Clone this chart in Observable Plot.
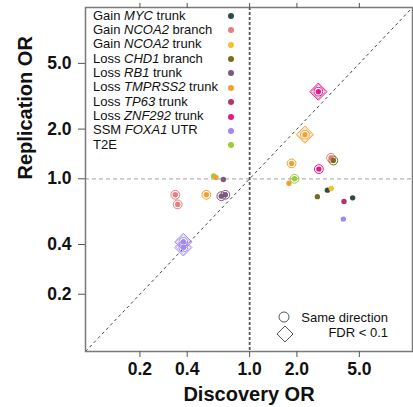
<!DOCTYPE html>
<html><head><meta charset="utf-8">
<script src="https://cdn.jsdelivr.net/npm/d3@7"></script>
<script src="https://cdn.jsdelivr.net/npm/@observablehq/plot@0.6"></script>
<style>
body{margin:0;background:#fff;font-family:"Liberation Sans",Arial,Helvetica,sans-serif;}
#wrap{position:relative;width:413px;height:407px;overflow:hidden;}
#wrap svg.plot{position:absolute;left:0;top:0;}
.leg{position:absolute;font-size:13px;line-height:14px;color:#111;white-space:nowrap;}
.legdot{position:absolute;width:6px;height:6px;border-radius:50%;}
.leg2{position:absolute;font-size:13px;line-height:14px;color:#111;white-space:nowrap;text-align:right;}
</style></head><body><div id="wrap"></div>
<script>
// Legend categories and their colours
const categories = ["Gain MYC trunk","Gain NCOA2 branch","Gain NCOA2 trunk","Loss CHD1 branch","Loss RB1 trunk","Loss TMPRSS2 trunk","Loss TP63 trunk","Loss ZNF292 trunk","SSM FOXA1 UTR","T2E"];
const palette = ["#2f4a46","#e57f7c","#f2c229","#7b6b1e","#7a5a82","#f0a231","#b5336c","#e0198c","#a088f7","#9acd38"];

// Points
const pointCategory = ["T2E","Loss TMPRSS2 trunk","Loss RB1 trunk","Gain NCOA2 branch","Gain NCOA2 branch","Loss TMPRSS2 trunk","Loss RB1 trunk","Loss RB1 trunk","SSM FOXA1 UTR","SSM FOXA1 UTR","Loss ZNF292 trunk","Loss TMPRSS2 trunk","Loss TMPRSS2 trunk","Gain NCOA2 branch","Loss CHD1 branch","Loss ZNF292 trunk","T2E","Loss TMPRSS2 trunk","Loss CHD1 branch","Gain MYC trunk","Gain NCOA2 trunk","Loss TP63 trunk","Gain MYC trunk","SSM FOXA1 UTR"];
const discoveryOR   = [0.59,0.61,0.68,0.336,0.348,0.53,0.66,0.70,0.378,0.378,2.74,2.25,1.85,3.30,3.41,2.76,1.93,1.78,2.70,3.13,3.31,3.99,4.53,3.95];
const replicationOR = [1.04,1.02,0.99,0.80,0.70,0.80,0.785,0.80,0.415,0.384,3.37,1.85,1.24,1.34,1.29,1.145,1.00,0.94,0.78,0.854,0.873,0.73,0.767,0.57];
const sameDirection = [false,false,false,true,true,true,true,true,true,true,true,true,true,true,true,true,true,false,false,false,false,false,false,false];
const fdrBelow01    = [false,false,false,false,false,false,false,false,true,true,true,true,false,false,false,false,false,false,false,false,false,false,false,false];

// Axis ticks
const tickValues = [0.2,0.4,1,2,5];
const axisDomain = [0.09,10.9];
const xTitle = "Discovery OR";
const yTitle = "Replication OR";
const keyLabels = ["Same direction","FDR < 0.1"];

const data = discoveryOR.map((d,i)=>({x:d,y:replicationOR[i],cat:pointCategory[i],same:sameDirection[i],fdr:fdrBelow01[i]}));
const fmt = d3.format(".1f");
const font = "Liberation Sans, Arial, Helvetica, sans-serif";

const chart = Plot.plot({
  width:413, height:407,
  marginLeft:85, marginRight:1, marginTop:7, marginBottom:56,
  style:{fontFamily:font, background:"white", overflow:"visible"},
  x:{type:"log", domain:axisDomain},
  y:{type:"log", domain:axisDomain},
  color:{domain:categories, range:palette},
  marks:[
    Plot.ruleY([1],{stroke:"#b5b5b5", strokeDasharray:"4,3", strokeWidth:1.3}),
    Plot.ruleX([1],{stroke:"#555", strokeDasharray:"3,2", strokeWidth:1.8}),
    Plot.link([axisDomain],{x1:d=>d[0],y1:d=>d[0],x2:d=>d[1],y2:d=>d[1],stroke:"#444",strokeDasharray:"3,3",strokeWidth:1}),
    Plot.dot(data.filter(d=>d.fdr),{x:"x",y:"y",symbol:"diamond2",r:7.7,stroke:"cat",fill:"none",strokeWidth:1}),
    Plot.dot(data.filter(d=>d.fdr),{x:"x",y:"y",symbol:"diamond2",r:6.4,stroke:"cat",fill:"none",strokeWidth:1,strokeOpacity:0.6}),
    Plot.dot(data.filter(d=>d.same),{x:"x",y:"y",r:4.4,stroke:"cat",fill:"none",strokeWidth:1}),
    Plot.dot(data,{x:"x",y:"y",r:2.7,fill:"cat",stroke:null}),
    Plot.frame({stroke:"#7a7a7a",strokeWidth:1.5}),
    Plot.axisX({ticks:tickValues,tickFormat:fmt,tickSize:6,tickPadding:5,fontSize:17.5,fontWeight:"bold",stroke:"#555",fill:"#111",label:null}),
    Plot.axisX({anchor:"top",ticks:tickValues,tickFormat:()=>"",tickSize:5,stroke:"#555",label:null}),
    Plot.axisY({ticks:tickValues,tickFormat:fmt,tickSize:7,tickPadding:7,fontSize:17.5,fontWeight:"bold",stroke:"#555",fill:"#111",label:null}),
    Plot.text([xTitle],{frameAnchor:"bottom",dy:49,fontSize:20,fontWeight:"bold",fill:"#111",text:d=>d}),
    Plot.text([yTitle],{frameAnchor:"left",dx:-60,rotate:-90,fontSize:20,fontWeight:"bold",fill:"#111",text:d=>d})
  ]
});
chart.classList.add("plot");
const wrap = document.getElementById("wrap");
wrap.appendChild(chart);

// Category legend (inside frame, top-left)
categories.forEach((c,i)=>{
  const yc = 16 + 14.37*i;
  const words = c.split(" ");
  const div = document.createElement("div");
  div.className = "leg";
  div.style.left = "93px";
  div.style.top = (yc-7.5)+"px";
  if (words.length >= 3) {
    div.innerHTML = words[0] + " <i>" + words[1] + "</i> " + words.slice(2).join(" ");
  } else div.textContent = c;
  wrap.appendChild(div);
  const dot = document.createElement("div");
  dot.className = "legdot";
  dot.style.left = (231-3)+"px";
  dot.style.top = (yc-3)+"px";
  dot.style.background = palette[i];
  wrap.appendChild(dot);
});

// Symbol key (bottom-right)
const key = document.createElementNS("http://www.w3.org/2000/svg","svg");
key.setAttribute("width","30"); key.setAttribute("height","40");
key.style.position="absolute"; key.style.left="270px"; key.style.top="305px";
key.innerHTML = '<circle cx="14" cy="12" r="5" fill="none" stroke="#555" stroke-width="1"/>' +
  '<path d="M15,21 L23,29 L15,37 L7,29 Z" fill="none" stroke="#555" stroke-width="1"/>';
wrap.appendChild(key);
keyLabels.forEach((t,i)=>{
  const div = document.createElement("div");
  div.className = "leg2";
  div.style.right = (413-388)+"px";
  div.style.top = (318 + 15*i - 7.5)+"px";
  div.textContent = t;
  wrap.appendChild(div);
});
</script></body></html>
